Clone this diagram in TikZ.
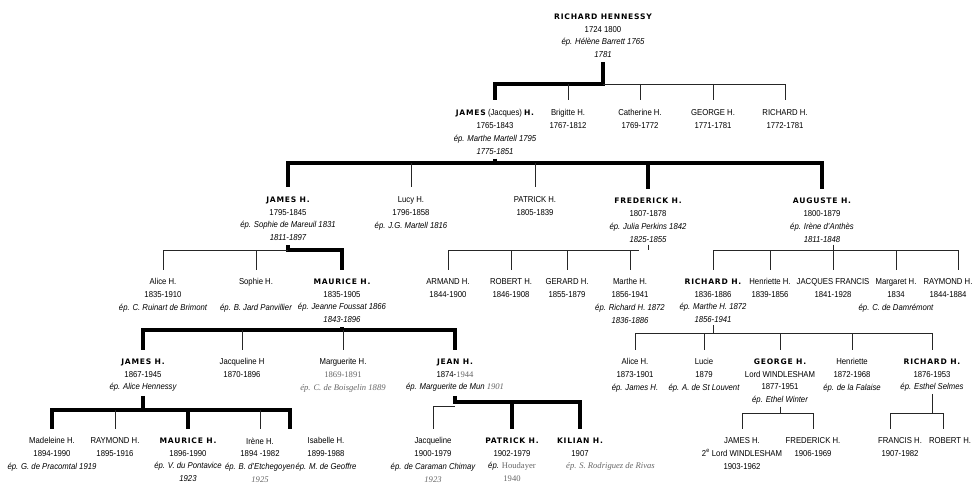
\documentclass[tikz,border=0pt]{standalone}
\usepackage{fontspec}
\setmainfont[FakeStretch=0.9]{Liberation Sans}
\newfontfamily\capsfont[LetterSpace=10]{DejaVu Sans}
\newfontfamily\oldserif{Liberation Serif}
\newcommand{\nm}[1]{{\capsfont\bfseries\fontsize{7.6}{12.8}\selectfont #1}}
\newcommand{\ep}[1]{{\itshape #1}}
\newcommand{\sr}[1]{{\oldserif\color{black!60}#1}}

\tikzset{
  every node/.style={anchor=north, inner sep=0pt, align=center,
    font=\fontsize{8.6}{12.8}\selectfont},
  bar/.style={line width=4.5pt, shorten <=4pt, shorten >=9pt},
  barto/.style={line width=4.5pt, shorten >=9pt},
  barspan/.style={line width=4.5pt, shorten <=9pt, shorten >=9pt},
  stub/.style={line width=4.5pt, shorten <=4pt},
  twig/.style={line width=0.7pt, black!85, shorten >=9pt},
  twigspan/.style={line width=0.7pt, black!85, shorten <=9pt, shorten >=9pt},
  hook/.style={line width=0.7pt, black!85, shorten <=2pt}
}

\begin{document}
\begin{tikzpicture}[x=1pt,y=-1pt]
\useasboundingbox (0,0) rectangle (976,486);

% levels of the bars
\coordinate (l0) at (0,84);
\coordinate (l1) at (0,163);
\coordinate (l2) at (0,250);
\coordinate (l3) at (0,330);
\coordinate (l3b) at (0,333);
\coordinate (l4) at (0,410);
\coordinate (l5) at (0,402);
\coordinate (l5b) at (0,406);
\coordinate (l6) at (0,413);

\node (richard) at (603,13.5) {\nm{RICHARD HENNESSY}\\1724 1800\\\ep{ép. Hélène Barrett 1765}\\\ep{1781}};

\node (jacques) at (495,109.5) {\nm{JAMES} (Jacques) \nm{H.}\\1765-1843\\\ep{ép. Marthe Martell 1795}\\\ep{1775-1851}};
\node (brigitte) at (568,109.5) {Brigitte H.\\1767-1812};
\node (catherine) at (640,109.5) {Catherine H.\\1769-1772};
\node (george) at (713,109.5) {GEORGE H.\\1771-1781};
\node (richardb) at (785,109.5) {RICHARD H.\\1772-1781};

\node (jamesb) at (288,196.5) {\nm{JAMES H.}\\1795-1845\\\ep{ép. Sophie de Mareuil 1831}\\\ep{1811-1897}};
\node (lucy) at (411,196.5) {Lucy H.\\1796-1858\\\ep{ép. J.G. Martell 1816}};
\node (patrick) at (535,196.5) {PATRICK H.\\1805-1839};
\node (frederick) at (648,198) {\nm{FREDERICK H.}\\1807-1878\\\ep{ép. Julia Perkins 1842}\\\ep{1825-1855}};
\node (auguste) at (822,198) {\nm{AUGUSTE H.}\\1800-1879\\\ep{ép. Irène d'Anthès}\\\ep{1811-1848}};

\node (alice) at (163,278.5) {Alice H.\\1835-1910\\\ep{ép. C. Ruinart de Brimont}};
\node (sophie) at (256,278.5) {Sophie H.\\[12.8pt]\ep{ép. B. Jard Panvillier}};
\node (maurice) at (342,278.5) {\nm{MAURICE H.}\\1835-1905\\\ep{ép. Jeanne Foussat 1866}\\\ep{1843-1896}};
\node (armand) at (448,278.5) {ARMAND H.\\1844-1900};
\node (robert) at (511,278.5) {ROBERT H.\\1846-1908};
\node (gerard) at (567,278.5) {GERARD H.\\1855-1879};
\node (marthe) at (630,278.5) {Marthe H.\\1856-1941\\\ep{ép. Richard H. 1872}\\\ep{1836-1886}};
\node (richardc) at (713,278.5) {\nm{RICHARD H.}\\1836-1886\\\ep{ép. Marthe H. 1872}\\\ep{1856-1941}};
\node (henriette) at (770,278.5) {Henriette H.\\1839-1856};
\node (jacquesf) at (833,278.5) {JACQUES FRANCIS\\1841-1928};
\node (margaret) at (896,278.5) {Margaret H.\\1834\\\ep{ép. C. de Damrémont}};
\node (raymondb) at (948,278.5) {RAYMOND H.\\1844-1884};

\node (jamesc) at (143,358.5) {\nm{JAMES H.}\\1867-1945\\\ep{ép. Alice Hennessy}};
\node (jacqueline) at (242,358.5) {Jacqueline H\\1870-1896};
\node (marguerite) at (343,358.5) {Marguerite H.\\\sr{1869-1891}\\\sr{\itshape ép. C. de Boisgelin 1889}};
\node (jean) at (455,358.5) {\nm{JEAN H.}\\1874-\sr{1944}\\\ep{ép. Marguerite de Mun} \sr{\itshape 1901}};
\node (alicec) at (635,358.5) {Alice H.\\1873-1901\\\ep{ép. James H.}};
\node (lucie) at (704,358.5) {Lucie\\1879\\\ep{ép. A. de St Louvent}};
\node (georgeb) at (780,358.5) {\nm{GEORGE H.}\\Lord WINDLESHAM\\1877-1951\\\ep{ép. Ethel Winter}};
\node (henriettec) at (852,358.5) {Henriette\\1872-1968\\\ep{ép. de la Falaise}};
\node (richardd) at (932,358.5) {\nm{RICHARD H.}\\1876-1953\\\ep{ép. Esthel Selmes}};

\node (madeleine) at (52,437.5) {Madeleine H.\\1894-1990\\\ep{ép. G. de Pracomtal 1919}};
\node (raymond) at (115,437.5) {RAYMOND H.\\1895-1916};
\node (mauriceb) at (188,437.5) {\nm{MAURICE H.}\\1896-1990\\\ep{ép. V. du Pontavice}\\\ep{1923}};
\node (irene) at (260,437.5) {Irène H.\\1894 -1982\\\ep{ép. B. d'Etchegoyen}\\\sr{\itshape 1925}};
\node (isabelle) at (326,437.5) {Isabelle H.\\1899-1988\\\ep{ép. M. de Geoffre}};
\node (jacquelineb) at (433,437.5) {Jacqueline\\1900-1979\\\ep{ép. de Caraman Chimay}\\\sr{\itshape 1923}};
\node (patrickb) at (512,437.5) {\nm{PATRICK H.}\\1902-1979\\\ep{ép.} \sr{Houdayer}\\\sr{1940}};
\node (kilian) at (580,437.5) {\nm{KILIAN H.}\\1907};
\node[anchor=north west] (kilianwife) at (566,462.5) {\sr{\itshape ép. S. Rodriguez de Rivas}};
\node (jamesd) at (742,437.5) {JAMES H.\\2\textsuperscript{e} Lord WINDLESHAM\\1903-1962};
\node (frederickb) at (813,437.5) {FREDERICK H.\\1906-1969};
\node (francis) at (900,437.5) {FRANCIS H.\\1907-1982};
\node (robertb) at (950,437.5) {ROBERT H.};

% Richard Hennessy
\draw[bar] (richard.south) -- (richard.south |- l0) -| (jacques.north);
\draw[twig] (richard.south |- l0) -| (richardb.north);
\foreach \k in {brigitte,catherine,george}
  \draw[twig] (\k.north |- l0) -- (\k.north);

% James (Jacques)
\draw[bar] (jacques.south) -- (jacques.south |- l1) -| (jamesb.north);
\draw[barto] (jacques.south |- l1) -| (auguste.north);
\draw[barto] (frederick.north |- l1) -- (frederick.north);
\foreach \k in {lucy,patrick}
  \draw[twig] (\k.north |- l1) -- (\k.north);

% James, Frederick, Auguste
\draw[bar] (jamesb.south) -- (jamesb.south |- l2) -| (maurice.north);
\draw[twig] (jamesb.south |- l2) -| (alice.north);
\draw[twig] (sophie.north |- l2) -- (sophie.north);

\draw[hook] (frederick.south) -- (frederick.south |- l2);
\draw[twigspan] (armand.north) |- (frederick.south |- l2);
\foreach \k in {robert,gerard,marthe}
  \draw[twig] (\k.north |- l2) -- (\k.north);

\draw[hook,shorten >=9pt] (auguste.south -| jacquesf.north) -- (jacquesf.north);
\draw[twigspan] (richardc.north) |- ([xshift=10pt]raymondb.north |- l2) -- ([xshift=10pt]raymondb.north);
\foreach \k in {henriette,margaret}
  \draw[twig] (\k.north |- l2) -- (\k.north);

% Maurice and Richard
\draw[stub] (maurice.south) -- (maurice.south |- l3);
\draw[barspan] (jamesc.north) |- (jean.north |- l3) -- (jean.north);
\foreach \k in {jacqueline,marguerite}
  \draw[twig] (\k.north |- l3) -- (\k.north);

\draw[hook] (richardc.south) -- (richardc.south |- l3b);
\draw[twigspan] (alicec.north) |- (richardd.north |- l3b) -- (richardd.north);
\foreach \k in {lucie,georgeb,henriettec}
  \draw[twig] (\k.north |- l3b) -- (\k.north);

% grandchildren
\draw[stub] (jamesc.south) -- (jamesc.south |- l4);
\draw[barspan] (madeleine.north) |- ([xshift=-36pt]isabelle.north |- l4) -- ([xshift=-36pt]isabelle.north);
\draw[barto] (mauriceb.north |- l4) -- (mauriceb.north);
\foreach \k in {raymond,irene}
  \draw[twig] (\k.north |- l4) -- (\k.north);

\draw[bar] (jean.south) -- (jean.south |- l5) -| (kilian.north);
\draw[barto] (patrickb.north |- l5) -- (patrickb.north);
\draw[twig] (jean.south |- l5b) -| (jacquelineb.north);

\draw[hook] (georgeb.south) -- (georgeb.south |- l6);
\draw[twigspan] (jamesd.north) |- (frederickb.north |- l6) -- (frederickb.north);
\draw[hook] (richardd.south) -- (richardd.south |- l6);
\draw[twigspan] ([xshift=-10pt]francis.north) |- ([xshift=-7pt]robertb.north |- l6) -- ([xshift=-7pt]robertb.north);
\end{tikzpicture}
\end{document}
